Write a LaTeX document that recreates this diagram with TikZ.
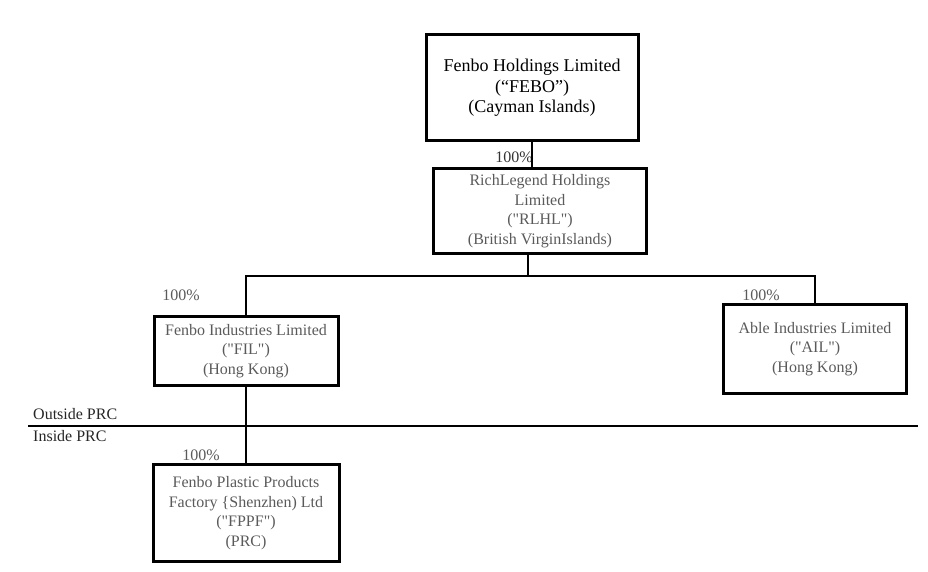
\documentclass[tikz,border=0pt]{standalone}
\usepackage{fontspec}
\setmainfont{Liberation Serif}[Ligatures=TeXOff]
\definecolor{txtgray}{HTML}{5A5A5A}

\begin{document}
\begin{tikzpicture}[x=1pt,y=-1pt,
  entity/.style={draw, line width=3pt, align=center, inner sep=0pt,
    font=\fontsize{16}{19.5}\selectfont, text=txtgray},
  share/.style={font=\fontsize{16}{19}\selectfont, text=txtgray, inner sep=0pt},
  link/.style={line width=1.5pt}]
\useasboundingbox (0,0) rectangle (928,572);

%Holding company
\node[entity, minimum width=212, minimum height=106, text=black,
  font=\fontsize{18}{20.5}\selectfont] (FEBO) at (532,88)
  {Fenbo Holdings Limited\\(“FEBO”)\\(Cayman Islands)};
\node[share, text=black!80] (pFEBO) at (514,157) {100\%};

%BVI
\node[entity, minimum width=213, minimum height=85] (RLHL) at (540,211)
  {RichLegend Holdings\\Limited\\("RLHL")\\(British VirginIslands)};

%Hong Kong
\node[entity, minimum width=184, minimum height=69] (FIL) at (246,351)
  {Fenbo Industries Limited\\("FIL")\\(Hong Kong)};
\node[share] (pFIL) at (181,295) {100\%};
\node[entity, minimum width=183, minimum height=89] (AIL) at (815,349)
  {Able Industries Limited\\("AIL")\\(Hong Kong)};
\node[share] (pAIL) at (761,295) {100\%};

%PRC line
\coordinate (divL) at (28,426);
\coordinate (divR) at (918,426);
\draw[link] (divL) -- (divR);
\node[share, text=black!85, anchor=west] (outPRC) at (33,414) {Outside PRC};
\node[share, text=black!85, anchor=west] (inPRC) at (33,436) {Inside PRC};

%PRC
\node[entity, minimum width=186, minimum height=97] (FPPF) at (246,513)
  {Fenbo Plastic Products\\Factory \{Shenzhen) Ltd\\("FPPF")\\(PRC)};
\node[share] (pFPPF) at (201,455) {100\%};

%links
\coordinate (split) at (528,276);
\draw[link] (FEBO.south) -- (RLHL.north -| FEBO.south);
\draw[link] (RLHL.south -| split) -- (split);
\draw[link] (FIL.north) |- (split) -| (AIL.north);
\draw[link] (FIL.south) -- (FPPF.north);

\end{tikzpicture}
\end{document}
